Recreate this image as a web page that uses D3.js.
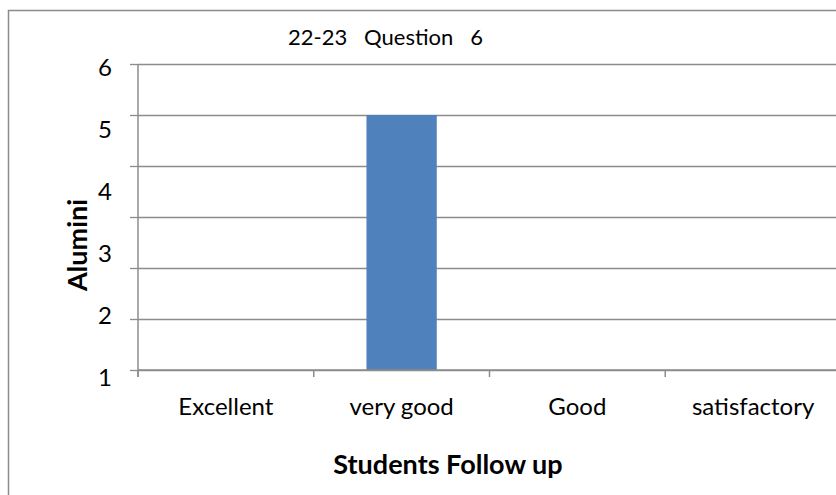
<!DOCTYPE html>
<html>
<head>
<meta charset="utf-8">
<script src="https://cdn.jsdelivr.net/npm/d3@7"></script>
<style>
  html, body { margin: 0; padding: 0; background: #fff; }
  svg { display: block; font-family: Lato, "Open Sans", sans-serif; }
</style>
</head>
<body>
<svg id="chart" width="836" height="495"></svg>
<script>
// data
const categories = ["Excellent", "very good", "Good", "satisfactory"];
const values = [0, 5, 0, 0];
const yTickLabels = [1, 2, 3, 4, 5, 6];
const gridValues = [1, 1.8, 2.6, 3.4, 4.2, 5, 5.8];
const title = "22-23   Question   6";
const xTitle = "Students Follow up";
const yTitle = "Alumini";

const svg = d3.select('#chart');
const gray = '#8c8c8c';

// outer chart border (runs off the picture on the right and bottom)
svg.append('rect')
    .attr('x', 8.5).attr('y', 10.5)
    .attr('width', 900).attr('height', 600)
    .attr('fill', 'none')
    .attr('stroke', gray)
    .attr('stroke-width', 1.5);

const plotLeft = 138, plotRight = 841, plotTop = 64, plotBottom = 370;

const xScale = d3.scaleBand()
    .domain(categories)
    .range([plotLeft, plotRight])
    .paddingInner(0.6)
    .paddingOuter(0.3);

// scale for bars and gridlines
const yScale = d3.scaleLinear()
    .domain([1, 5.8])
    .range([plotBottom, plotTop]);

// scale for the tick numbers (they sit a bit off the gridlines in the original)
const yLabelScale = d3.scaleLinear()
    .domain([1, 6])
    .range([377, 67]);

// gridlines + left tick marks
svg.append('g')
    .attr('transform', `translate(${plotLeft}, 0)`)
    .call(d3.axisLeft(yScale).tickValues(gridValues).tickSize(8).tickFormat(''))
    .call(g => g.select('.domain').remove())
    .call(g => g.selectAll('.tick line').attr('stroke', gray).attr('stroke-width', 1.3))
    .call(g => g.selectAll('.tick').append('line')
        .attr('x1', 0).attr('x2', plotRight - plotLeft)
        .attr('stroke', gray).attr('stroke-width', 1.3));

// y tick labels
svg.append('g')
    .attr('transform', `translate(112, 0)`)
    .call(d3.axisLeft(yLabelScale).tickValues(yTickLabels).tickSize(0).tickPadding(0).tickFormat(d3.format('d')))
    .call(g => g.select('.domain').remove())
    .call(g => g.selectAll('text')
        .attr('font-family', 'Lato, sans-serif')
        .attr('font-size', 24).attr('fill', '#000')
        .attr('dy', '0.35em'));

// bars
svg.append('g')
    .selectAll('rect')
    .data(categories.map((c, i) => ({ c, v: values[i] })).filter(d => d.v > 1))
    .join('rect')
    .attr('x', d => xScale(d.c))
    .attr('y', d => yScale(d.v))
    .attr('width', xScale.bandwidth())
    .attr('height', d => yScale(1) - yScale(d.v))
    .attr('fill', '#4f81bd');

// y axis line
svg.append('line')
    .attr('x1', plotLeft).attr('x2', plotLeft)
    .attr('y1', plotTop).attr('y2', plotBottom + 7)
    .attr('stroke', gray).attr('stroke-width', 1.5);

// x axis line, tick marks between categories
const step = xScale.step();
const x0 = xScale(categories[0]) - xScale.paddingOuter() * step;
svg.append('line')
    .attr('x1', plotLeft).attr('x2', plotRight)
    .attr('y1', plotBottom).attr('y2', plotBottom)
    .attr('stroke', gray).attr('stroke-width', 1.5);
svg.append('g')
    .selectAll('line')
    .data(d3.range(categories.length + 1))
    .join('line')
    .attr('x1', i => x0 + i * step).attr('x2', i => x0 + i * step)
    .attr('y1', plotBottom).attr('y2', plotBottom + 7)
    .attr('stroke', gray).attr('stroke-width', 1.5);

// category labels
svg.append('g')
    .attr('transform', `translate(0, ${plotBottom})`)
    .call(d3.axisBottom(xScale).tickSize(0).tickPadding(0))
    .call(g => g.select('.domain').remove())
    .call(g => g.selectAll('text')
        .attr('font-family', 'Lato, sans-serif')
        .attr('font-size', 24).attr('fill', '#000')
        .attr('dy', null).attr('y', 45));

// titles
svg.append('text')
    .attr('x', 288).attr('y', 45)
    .attr('font-size', 22)
    .style('white-space', 'pre')
    .text(title);

svg.append('text')
    .attr('x', 448).attr('y', 474)
    .attr('text-anchor', 'middle')
    .attr('font-size', 27).attr('font-weight', 'bold')
    .text(xTitle);

svg.append('text')
    .attr('transform', 'translate(87, 245) rotate(-90)')
    .attr('text-anchor', 'middle')
    .attr('font-size', 27).attr('font-weight', 'bold')
    .text(yTitle);
</script>
</body>
</html>
